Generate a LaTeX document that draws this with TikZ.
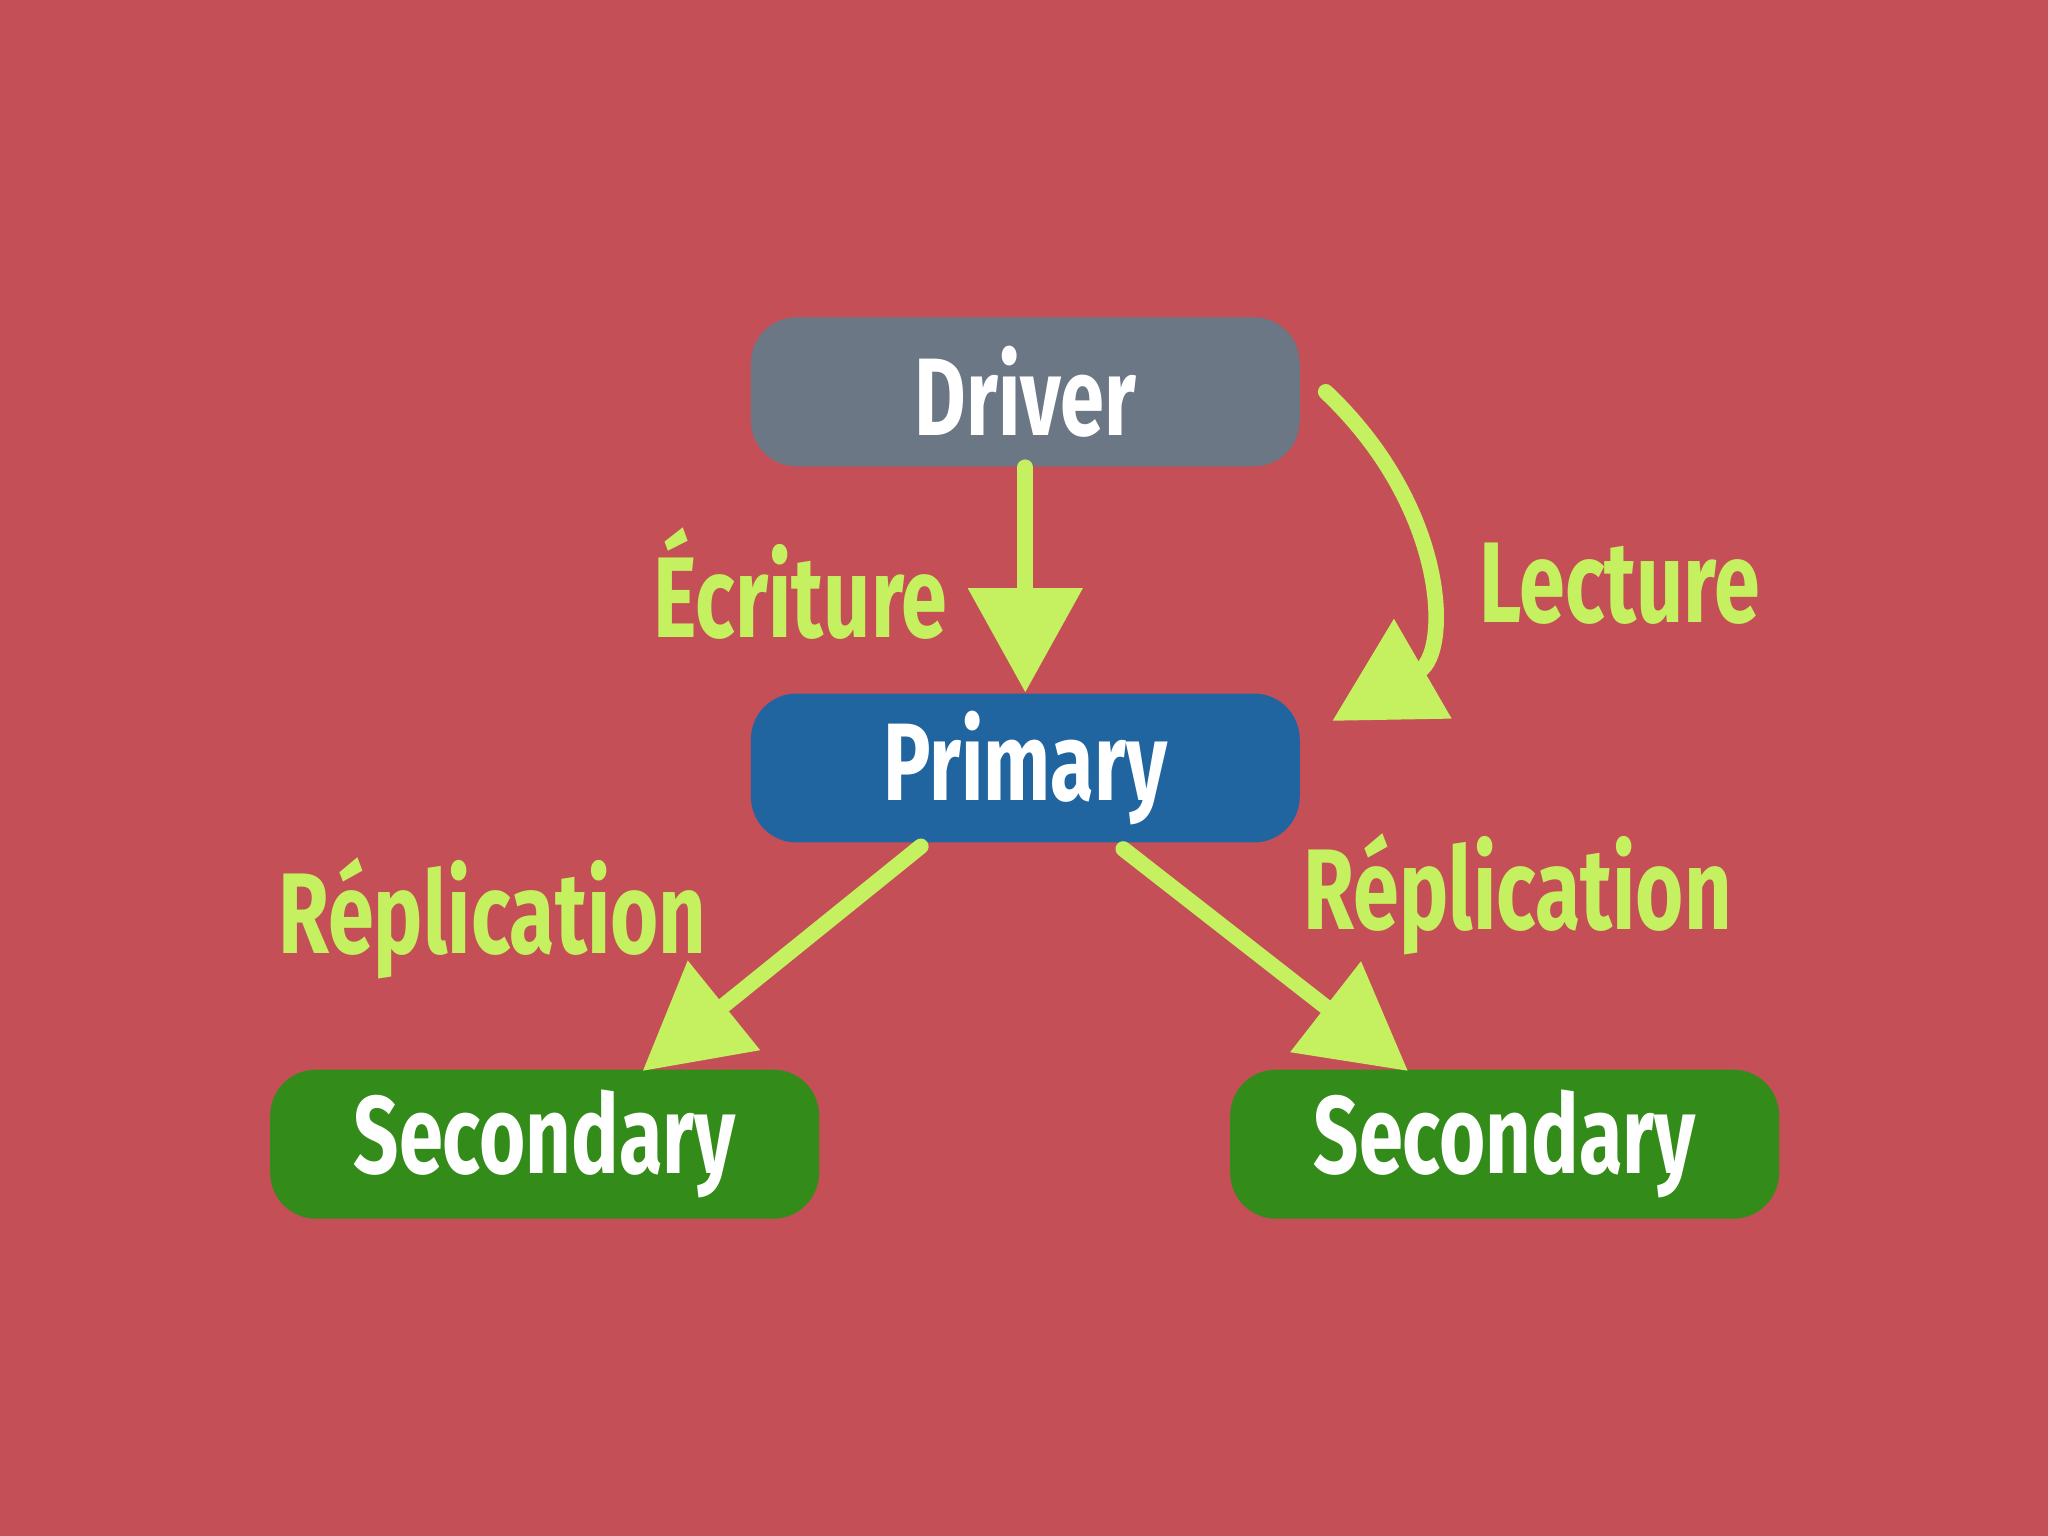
\documentclass[tikz,border=0pt]{standalone}
\usepackage{fontspec}
\setmainfont{Fira Sans}
\usetikzlibrary{arrows.meta}
\definecolor{bg}{HTML}{C44F57}
\definecolor{drv}{HTML}{6B7785}
\definecolor{pri}{HTML}{2165A0}
\definecolor{sec}{HTML}{338C1A}
\definecolor{lime}{HTML}{C5F060}
\tikzset{
 box/.style={rounded corners=0.35cm,minimum width=4.2cm,minimum height=1.14cm,text=white,font=\fontsize{24}{28}\selectfont\bfseries},
 lbl/.style={text=lime,font=\fontsize{25}{30}\selectfont\bfseries},
 arr/.style={draw=lime,line width=3.4pt,line cap=round,-{Triangle[length=0.8cm,width=0.85cm]}}
}
\newcommand{\cond}[1]{\scalebox{0.72}[1]{#1}}
\begin{document}
\begin{tikzpicture}[x=0.01cm,y=-0.01cm]
\fill[bg] (0,0) rectangle (1568,1176);
\node[box,fill=drv] (d) at (785,300) {\cond{Driver}};
\node[box,fill=pri] (p) at (785,588) {\cond{Primary}};
\node[box,fill=sec] (s1) at (417,876) {\cond{Secondary}};
\node[box,fill=sec] (s2) at (1152,876) {\cond{Secondary}};
\node[lbl] (l1) at (613,447) {\cond{Écriture}};
\node[lbl] (l2) at (1240,447) {\cond{Lecture}};
\node[lbl] (l3) at (377,703) {\cond{Réplication}};
\node[lbl] (l4) at (1162,685) {\cond{Réplication}};
\coordinate (c1) at (1015,300);
\coordinate (c2) at (705,648);
\coordinate (c3) at (860,650);
\draw[arr] (d.south) -- (p.north);
\draw[arr] (c1) .. controls (1110,390) and (1110,500) .. (1020,552);
\draw[arr] (c2) -- (492,820);
\draw[arr] (c3) -- (1078,820);
\end{tikzpicture}
\end{document}
